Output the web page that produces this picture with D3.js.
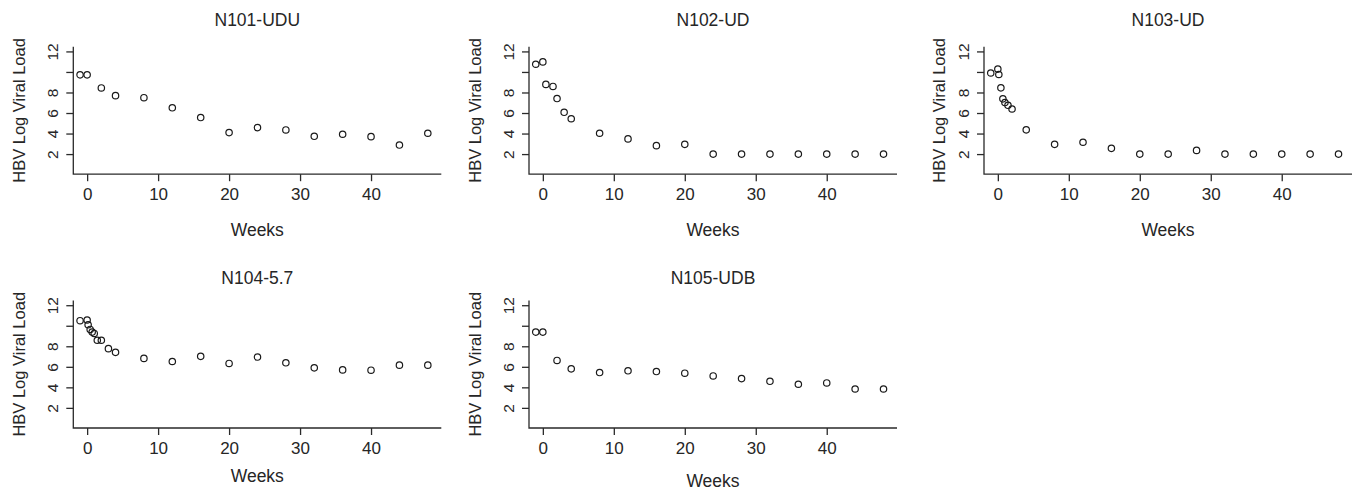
<!DOCTYPE html>
<html>
<head>
<meta charset="utf-8">
<script src="https://cdn.jsdelivr.net/npm/d3@7"></script>
<style>
  html, body { margin: 0; padding: 0; background: #fff; }
  svg { display: block; }
  text { font-family: "Liberation Sans", Arial, Helvetica, sans-serif; fill: #262626; }
</style>
</head>
<body>
<svg id="chart" width="1360" height="495"></svg>
<script>
// ---- Data ----
const panelTitles = ["N101-UDU", "N102-UD", "N103-UD", "N104-5.7", "N105-UDB"];

const weeks101 = [-1, 0, 2, 4, 8, 12, 16, 20, 24, 28, 32, 36, 40, 44, 48];
const load101  = [9.72, 9.72, 8.44, 7.69, 7.49, 6.51, 5.56, 4.09, 4.58, 4.35, 3.73, 3.93, 3.70, 2.88, 4.03];

const weeks102 = [-1, 0, 0.43, 1.43, 2, 3, 4, 8, 12, 16, 20, 24, 28, 32, 36, 40, 44, 48];
const load102  = [10.75, 10.98, 8.79, 8.59, 7.41, 6.07, 5.44, 4.03, 3.48, 2.82, 2.95, 2, 2, 2, 2, 2, 2, 2];

const weeks103 = [-1, 0, 0.14, 0.43, 0.71, 1, 1.43, 2, 4, 8, 12, 16, 20, 24, 28, 32, 36, 40, 44, 48];
const load103  = [9.90, 10.28, 9.75, 8.45, 7.38, 7.02, 6.75, 6.39, 4.36, 2.95, 3.15, 2.56, 2, 2, 2.36, 2, 2, 2, 2, 2];

const weeks104 = [-1, 0, 0.14, 0.43, 0.71, 1, 1.43, 2, 3, 4, 8, 12, 16, 20, 24, 28, 32, 36, 40, 44, 48];
const load104  = [10.49, 10.56, 10.10, 9.64, 9.38, 9.25, 8.59, 8.59, 7.77, 7.41, 6.82, 6.52, 7.02, 6.33, 6.95, 6.39, 5.90, 5.70, 5.67, 6.16, 6.16];

const weeks105 = [-1, 0, 2, 4, 8, 12, 16, 20, 24, 28, 32, 36, 40, 44, 48];
const load105  = [9.38, 9.38, 6.62, 5.80, 5.44, 5.61, 5.54, 5.38, 5.11, 4.85, 4.59, 4.30, 4.43, 3.84, 3.84];

const xTicks = [0, 10, 20, 30, 40];
const yTicks = [2, 4, 6, 8, 10, 12];
const yTickLabels = ["2", "4", "6", "8", "", "12"];
const xLabel = "Weeks";
const yLabel = "HBV Log Viral Load";

const panelWeeks = [weeks101, weeks102, weeks103, weeks104, weeks105];
const panelLoads = [load101, load102, load103, load104, load105];

// ---- Layout ----
const colLeft = [73.3, 529, 984];
const rowTop = [46.7, 300.5];
const pw = 368, ph = 127.5;
const titleY = [20, 278];
const xLabelOffset = [56, 56, 56, 48, 53];
const yLabelOffset = [54.5, 54.5, 45, 54.5, 54.5];

const svg = d3.select("#chart");
const stroke = "#2a2a2a";
const fam = '"Liberation Sans", Arial, sans-serif';

panelTitles.forEach((title, i) => {
  const col = i % 3, row = Math.floor(i / 3);
  const g = svg.append("g").attr("transform", `translate(${colLeft[col]},${rowTop[row]})`);

  const x = d3.scaleLinear().domain([-1.95, 49.9]).range([0, pw]);
  const y = d3.scaleLinear().domain([0.04, 12.46]).range([ph, 0]);

  // L-shaped box
  g.append("path")
    .attr("d", `M0,0V${ph}H${pw}`)
    .attr("fill", "none").attr("stroke", stroke).attr("stroke-width", 1.3);

  // x axis
  const xa = g.append("g").attr("transform", `translate(0,${ph})`)
    .call(d3.axisBottom(x).tickValues(xTicks).tickSize(7).tickPadding(7).tickFormat(d3.format("d")));
  xa.select(".domain").remove();
  xa.selectAll("line").attr("stroke", stroke).attr("stroke-width", 1.3);
  xa.selectAll("text").attr("font-size", "17px").attr("fill", "#262626").attr("font-family", fam);

  // y axis
  const ya = g.append("g")
    .call(d3.axisLeft(y).tickValues(yTicks).tickSize(7).tickFormat((d, j) => yTickLabels[j]));
  ya.select(".domain").remove();
  ya.selectAll("line").attr("stroke", stroke).attr("stroke-width", 1.3);
  ya.selectAll("text")
    .attr("font-size", "15.5px").attr("fill", "#262626").attr("font-family", fam)
    .attr("x", null).attr("dy", null)
    .attr("text-anchor", "middle")
    .attr("dominant-baseline", "central")
    .attr("transform", "translate(-21,0) rotate(-90)");

  // points
  const wk = panelWeeks[i], ld = panelLoads[i];
  g.append("g").selectAll("circle")
    .data(wk.map((w, j) => [w, ld[j]]))
    .join("circle")
    .attr("cx", d => x(d[0]))
    .attr("cy", d => y(d[1]))
    .attr("r", 3.2)
    .attr("fill", "none")
    .attr("stroke", "#1a1a1a")
    .attr("stroke-width", 1.2);

  // title
  svg.append("text")
    .attr("x", colLeft[col] + pw / 2).attr("y", titleY[row])
    .attr("text-anchor", "middle").attr("dominant-baseline", "central")
    .attr("font-size", "17.5px").text(title);

  // x label
  svg.append("text")
    .attr("x", colLeft[col] + pw / 2).attr("y", rowTop[row] + ph + xLabelOffset[i])
    .attr("text-anchor", "middle").attr("dominant-baseline", "central")
    .attr("font-size", "17.5px").text(xLabel);

  // y label
  svg.append("text")
    .attr("transform", `translate(${colLeft[col] - yLabelOffset[i]},${rowTop[row] + ph / 2}) rotate(-90)`)
    .attr("text-anchor", "middle").attr("dominant-baseline", "central")
    .attr("font-size", "16.5px").text(yLabel);
});
</script>
</body>
</html>
